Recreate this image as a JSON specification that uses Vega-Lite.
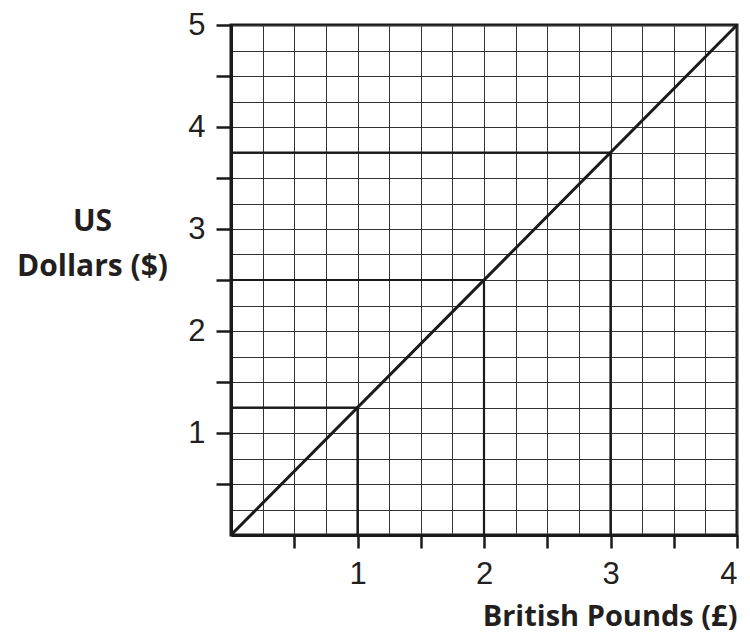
{
  "$schema": "https://vega.github.io/schema/vega-lite/v6.json",
  "width": 506,
  "height": 510,
  "autosize": "none",
  "padding": {"left": 231, "top": 25, "right": 13, "bottom": 100},
  "background": "white",
  "config": {
    "view": {"stroke": "#1a1a1a", "strokeWidth": 3},
    "font": "Liberation Sans"
  },
  "data": {
    "values": [
      {"kind": "diag", "x": 0, "y": 0, "x2": 4, "y2": 5},
      {"kind": "ref", "x": 1, "y": 0, "x2": 1, "y2": 1.25},
      {"kind": "ref", "x": 0, "y": 1.25, "x2": 1, "y2": 1.25},
      {"kind": "ref", "x": 2, "y": 0, "x2": 2, "y2": 2.5},
      {"kind": "ref", "x": 0, "y": 2.5, "x2": 2, "y2": 2.5},
      {"kind": "ref", "x": 3, "y": 0, "x2": 3, "y2": 3.75},
      {"kind": "ref", "x": 0, "y": 3.75, "x2": 3, "y2": 3.75}
    ]
  },
  "mark": {"type": "rule", "color": "#1a1a1a"},
  "encoding": {
    "x": {
      "field": "x", "type": "quantitative",
      "scale": {"domain": [0, 4], "nice": false, "zero": false},
      "axis": {
        "values": [0, 0.25, 0.5, 0.75, 1, 1.25, 1.5, 1.75, 2, 2.25, 2.5, 2.75, 3, 3.25, 3.5, 3.75, 4],
        "grid": true, "gridColor": "#333", "gridWidth": 1, "gridOpacity": 1,
        "domainColor": "#1a1a1a", "domainWidth": 3,
        "tickColor": "#1a1a1a", "tickWidth": 2.5, "tickSize": 13,
        "tickOpacity": {"condition": {"test": "datum.value % 0.5 == 0 && datum.value > 0", "value": 1}, "value": 0},
        "labelExpr": "datum.value % 1 == 0 && datum.value > 0 ? format(datum.value, 'd') : ''",
        "labelFontSize": 31, "labelColor": "#231f20", "labelPadding": 11,
        "labelFont": "Liberation Sans",
        "title": "British Pounds (£)",
        "titleFont": "Open Sans", "titleFontWeight": "bold", "titleFontSize": 29,
        "titleColor": "#231f20", "titleAnchor": "end", "titleBaseline": "alphabetic",
        "titleY": 90
      }
    },
    "y": {
      "field": "y", "type": "quantitative",
      "scale": {"domain": [0, 5], "nice": false, "zero": false},
      "axis": {
        "values": [0, 0.25, 0.5, 0.75, 1, 1.25, 1.5, 1.75, 2, 2.25, 2.5, 2.75, 3, 3.25, 3.5, 3.75, 4, 4.25, 4.5, 4.75, 5],
        "grid": true, "gridColor": "#333", "gridWidth": 1, "gridOpacity": 1,
        "domainColor": "#1a1a1a", "domainWidth": 3,
        "tickColor": "#1a1a1a", "tickWidth": 2.5, "tickSize": 15,
        "tickOpacity": {"condition": {"test": "datum.value % 0.5 == 0 && datum.value > 0", "value": 1}, "value": 0},
        "labelExpr": "datum.value % 1 == 0 && datum.value > 0 ? format(datum.value, 'd') : ''",
        "labelFontSize": 31, "labelColor": "#231f20", "labelPadding": 11,
        "labelFont": "Liberation Sans",
        "title": ["US", "Dollars ($)"],
        "titleFont": "Open Sans", "titleFontWeight": "bold", "titleFontSize": 30,
        "titleColor": "#231f20", "titleAngle": 0, "titleAlign": "center",
        "titleBaseline": "alphabetic", "titleX": -139, "titleY": 205, "titleLineHeight": 45
      }
    },
    "x2": {"field": "x2"},
    "y2": {"field": "y2"},
    "strokeWidth": {
      "field": "kind", "type": "nominal",
      "scale": {"domain": ["diag", "ref"], "range": [3, 2.2]},
      "legend": null
    }
  }
}
